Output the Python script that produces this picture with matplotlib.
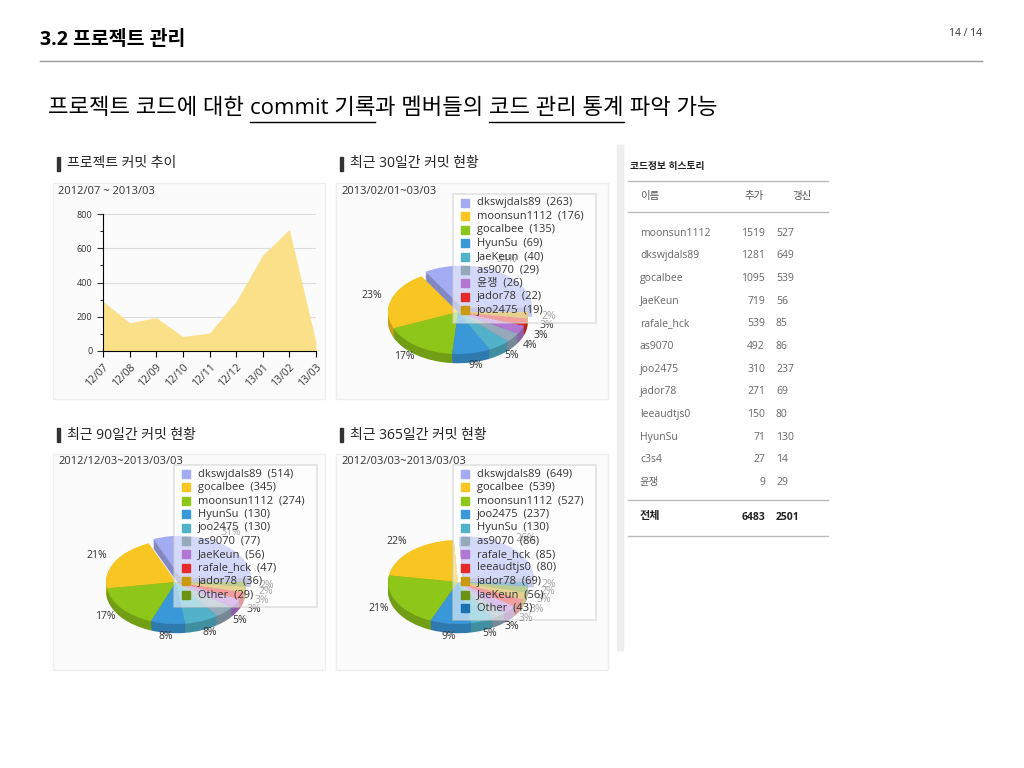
import numpy as np
import matplotlib
matplotlib.use('Agg')
import matplotlib.pyplot as plt
from matplotlib.patches import Rectangle
from matplotlib.lines import Line2D
from matplotlib.colors import to_rgb

plt.rcParams['font.family'] = ['Open Sans', 'Noto Sans CJK KR', 'DejaVu Sans']

# ---- data ----
months = ['12/07', '12/08', '12/09', '12/10', '12/11', '12/12', '13/01', '13/02', '13/03']
commits = [290, 165, 195, 85, 105, 290, 560, 710, 50]

names30 = ['dkswjdals89', 'moonsun1112', 'gocalbee', 'HyunSu', 'JaeKeun', 'as9070', '윤쟁', 'jador78', 'joo2475']
vals30 = [263, 176, 135, 69, 40, 29, 26, 22, 19]
names90 = ['dkswjdals89', 'gocalbee', 'moonsun1112', 'HyunSu', 'joo2475', 'as9070', 'JaeKeun', 'rafale_hck', 'jador78', 'Other']
vals90 = [514, 345, 274, 130, 130, 77, 56, 47, 36, 29]
names365 = ['dkswjdals89', 'gocalbee', 'moonsun1112', 'joo2475', 'HyunSu', 'as9070', 'rafale_hck', 'leeaudtjs0', 'jador78', 'JaeKeun', 'Other']
vals365 = [649, 539, 527, 237, 130, 86, 85, 80, 69, 56, 43]

tbl_names = ['moonsun1112', 'dkswjdals89', 'gocalbee', 'JaeKeun', 'rafale_hck', 'as9070',
             'joo2475', 'jador78', 'leeaudtjs0', 'HyunSu', 'c3s4', '윤쟁']
tbl_add = [1519, 1281, 1095, 719, 539, 492, 310, 271, 150, 71, 27, 9]
tbl_upd = [527, 649, 539, 56, 85, 86, 237, 69, 80, 130, 14, 29]

pie_colors = ['#a3abf2', '#f7c623', '#8fc61a', '#3a97d8', '#52b2c9', '#94a9ba',
              '#b276d3', '#e62a2a', '#c9990f', '#6c9212', '#1a72b2']

W, H = 1024, 768
fig = plt.figure(figsize=(W / 100, H / 100), dpi=100)


def fx(x):
    return x / W


def fy(y):
    return 1 - y / H


def txt(x, y, s, **kw):
    return fig.text(fx(x), fy(y), s, **kw)


def hline(x0, x1, y, color='#bbbbbb', lw=1):
    fig.add_artist(Line2D([fx(x0), fx(x1)], [fy(y), fy(y)], color=color, lw=lw))


# ---- page title ----
txt(40, 40, '3.2 프로젝트 관리', fontsize=14, fontweight='bold', va='center')
txt(982, 34, '14 / 14', fontsize=7.5, ha='right', va='center', color='#333333')
hline(40, 982, 61, color='#999999')

renderer = fig.canvas.get_renderer()
parts = [('프로젝트 코드에 대한 ', False), ('commit 기록', True), ('과 멤버들의 ', False),
         ('코드 관리 통계', True), (' 파악 가능', False)]
x = 48
for s, ul in parts:
    t = txt(x, 108, s, fontsize=16, va='center')
    bb = t.get_window_extent(renderer)
    if ul:
        hline(x, x + bb.width, 122, color='black', lw=1)
    x += bb.width


# ---- panels ----
def panel(x0, y0, title, sub):
    fig.add_artist(Rectangle((fx(x0 - 2), fy(y0 + 7)), 3 / W, 14 / H, color='#333333'))
    txt(x0 + 8, y0, title, fontsize=10, va='center', color='#222222')
    fig.add_artist(Rectangle((fx(x0 - 6), fy(y0 + 235)), 272 / W, 216 / H,
                             facecolor='#fbfbfb', edgecolor='#eeeeee', lw=1, zorder=-5))
    txt(x0 - 1, y0 + 27, sub, fontsize=8, va='center', color='#333333')


panel(59, 164, '프로젝트 커밋 추이', '2012/07 ~ 2013/03')
panel(342, 164, '최근 30일간 커밋 현황', '2013/02/01~03/03')
panel(59, 435, '최근 90일간 커밋 현황', '2012/12/03~2013/03/03')
panel(342, 435, '최근 365일간 커밋 현황', '2012/03/03~2013/03/03')

# ---- area chart ----
ax = fig.add_axes([fx(103), fy(351), (316 - 103) / W, (351 - 214) / H])
xs = np.arange(len(months))
ax.fill_between(xs, commits, color='#fbe08a', lw=0)
ax.set_xlim(0, len(months) - 1)
ax.set_ylim(0, 800)
ax.set_yticks([0, 200, 400, 600, 800])
ax.set_yticks(np.arange(0, 801, 100), minor=True)
ax.set_xticks(xs)
ax.set_xticklabels(months, rotation=45, ha='right', rotation_mode='anchor', fontsize=7.5, color='#333333')
ax.tick_params(axis='y', labelsize=6.5, colors='#333333', length=4)
ax.tick_params(axis='y', which='minor', length=2)
ax.tick_params(axis='x', length=4)
ax.grid(axis='y', color='#dddddd', lw=0.8)
ax.set_axisbelow(True)
for s in ['top', 'right']:
    ax.spines[s].set_visible(False)
ax.patch.set_alpha(0)


# ---- pies ----
def darker(c, f=0.8):
    r, g, b = to_rgb(c)
    return (r * f, g * f, b * f)


def pie3d(cx, cy, rx, ry, names, vals, lx, ly, lh):
    a = fig.add_axes([fx(cx - 1.4 * rx), fy(cy + 1.4 * ry), 2.8 * rx / W, 2.8 * ry / H])
    cols = pie_colors[:len(vals)]
    ex = [0.12] + [0] * (len(vals) - 1)
    for d in np.linspace(0.22, 0.02, 8):
        a.pie(vals, colors=[darker(c) for c in cols], explode=ex, radius=1, center=(0, -d),
              wedgeprops=dict(lw=0))
    a.pie(vals, colors=cols, explode=ex, radius=1, wedgeprops=dict(lw=0),
          autopct=lambda p: '%d%%' % round(p), pctdistance=1.3,
          textprops=dict(fontsize=7.5, color='#333333'))
    a.set_aspect('auto')
    a.set_xlim(-1.4, 1.4)
    a.set_ylim(-1.4, 1.4)
    a.axis('off')
    # legend box
    bw, bh = 143, lh * len(names) + 8
    fig.add_artist(Rectangle((fx(lx), fy(ly + bh)), bw / W, bh / H, facecolor='white',
                             alpha=0.55, edgecolor='#cccccc', lw=1.2))
    for i, (n, v) in enumerate(zip(names, vals)):
        yy = ly + 9 + i * lh
        fig.add_artist(Rectangle((fx(lx + 8), fy(yy + 4)), 8 / W, 8 / H, color=pie_colors[i]))
        txt(lx + 24, yy, '%s  (%d)' % (n, v), fontsize=8, va='center', color='#333333')


pie3d(458, 312, 70, 42, names30, vals30, 453, 194, 13.4)
pie3d(176, 582, 70, 42, names90, vals90, 174, 465, 13.4)
pie3d(458, 582, 70, 42, names365, vals365, 453, 465, 13.4)

# ---- table ----
fig.add_artist(Rectangle((fx(617), fy(650)), 6 / W, 505 / H, color='#eeeeee', zorder=-5))
txt(630, 167, '코드정보 히스토리', fontsize=7, fontweight='bold', va='center', color='#222222')
hline(628, 828, 181)
txt(640, 197, '이름', fontsize=7.5, va='center', color='#555555')
txt(764, 197, '추가', fontsize=7.5, va='center', ha='right', color='#555555')
txt(812, 197, '갱신', fontsize=7.5, va='center', ha='right', color='#555555')
hline(628, 828, 212)
for i, (n, a_, u) in enumerate(zip(tbl_names, tbl_add, tbl_upd)):
    yy = 233 + i * 22.7
    txt(640, yy, n, fontsize=7.5, va='center', color='#666666')
    txt(765, yy, str(a_), fontsize=7.5, va='center', ha='right', color='#666666')
    txt(776, yy, str(u), fontsize=7.5, va='center', color='#666666')
hline(628, 828, 500)
txt(640, 517, '전체', fontsize=8, fontweight='bold', va='center', color='#222222')
txt(765, 517, str(sum(tbl_add)), fontsize=7.5, fontweight='bold', va='center', ha='right', color='#222222')
txt(776, 517, str(sum(tbl_upd)), fontsize=7.5, fontweight='bold', va='center', color='#222222')
hline(628, 828, 536)

fig.savefig('out.png', dpi=100)
